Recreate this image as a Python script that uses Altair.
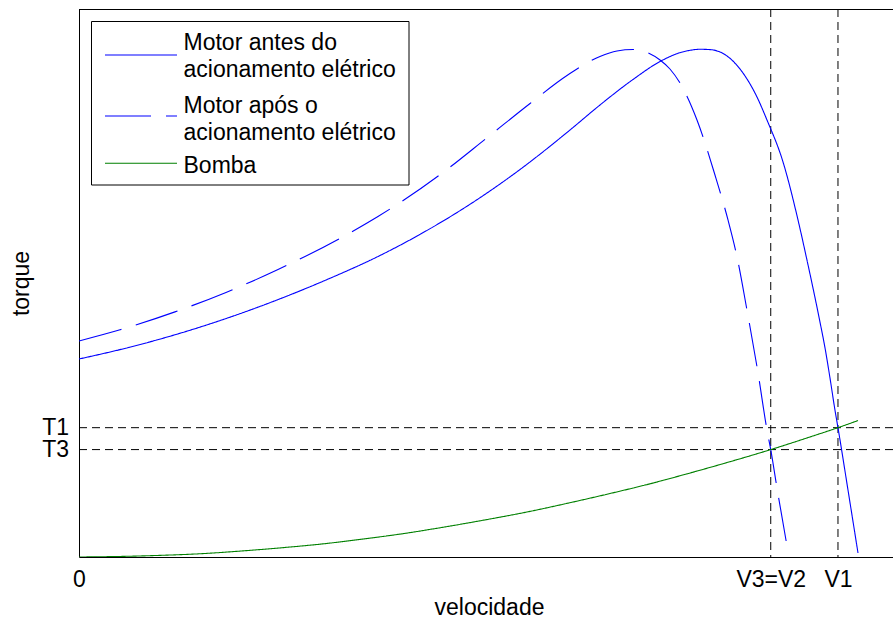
import json
import altair as alt
import pandas as pd

# Torque-speed curves (velocity and torque in normalised units)
motor_antes_v = [0.0000, 0.0614, 0.1229, 0.1843, 0.2457, 0.3071, 0.3686, 0.4189, 0.4803,
                 0.5418, 0.6032, 0.6400, 0.6806, 0.7138, 0.7383, 0.7506, 0.7629, 0.7752,
                 0.7961, 0.8157, 0.8329, 0.8452, 0.8649, 0.8833, 0.8943, 0.9017, 0.9103,
                 0.9165, 0.9226, 0.9287, 0.9324, 0.9447, 0.9570]
motor_antes_t = [0.3613, 0.3825, 0.4077, 0.4370, 0.4704, 0.5078, 0.5493, 0.5887, 0.6436,
                 0.7071, 0.7792, 0.8248, 0.8714, 0.9042, 0.9203, 0.9246, 0.9265, 0.9259,
                 0.9142, 0.8832, 0.8394, 0.7974, 0.7208, 0.6150, 0.5420, 0.4909, 0.4288,
                 0.3814, 0.3266, 0.2682, 0.2360, 0.1223, 0.0073]

motor_apos_v = [0.0000, 0.0504, 0.1179, 0.1806, 0.2445, 0.3243, 0.3673, 0.4005, 0.4435,
                0.5012, 0.5541, 0.5995, 0.6400, 0.6609, 0.6806, 0.6929, 0.7138, 0.7260,
                0.7383, 0.7592, 0.7813, 0.7973, 0.8084, 0.8206, 0.8342, 0.8452, 0.8498,
                0.8575, 0.8698]
motor_apos_t = [0.3942, 0.4146, 0.4473, 0.4828, 0.5246, 0.5845, 0.6214, 0.6527, 0.6976,
                0.7650, 0.8276, 0.8786, 0.9133, 0.9234, 0.9261, 0.9234, 0.9069, 0.8905,
                0.8650, 0.7974, 0.6971, 0.6150, 0.5474, 0.4507, 0.3358, 0.2318, 0.1960,
                0.1259, 0.0201]

bomba_v = [0.00, 0.05, 0.10, 0.15, 0.20, 0.25, 0.30, 0.35, 0.40, 0.45, 0.50, 0.55,
           0.60, 0.65, 0.70, 0.75, 0.80, 0.8498, 0.90, 0.9324, 0.957]
bomba_t = [0.000, 0.001, 0.003, 0.006, 0.011, 0.017, 0.024, 0.033, 0.043, 0.055, 0.068,
           0.082, 0.098, 0.115, 0.133, 0.153, 0.174, 0.196, 0.220, 0.236, 0.249]

# Operating points
x_tick_values = [0.0, 0.8498, 0.9324]
x_tick_labels = ["0", "V3=V2", "V1"]
y_tick_values = [0.196, 0.236]
y_tick_labels = ["T3", "T1"]
v_markers = [0.8498, 0.9324]
t_markers = [0.236, 0.196]

series_names = ["Motor antes do acionamento elétrico",
                "Motor após o acionamento elétrico",
                "Bomba"]
legend_lines = [["Motor antes do", "acionamento elétrico"],
                ["Motor após o", "acionamento elétrico"],
                ["Bomba"]]
series_colors = ["#0000ff", "#0000ff", "#008000"]
series_dashes = [[1, 0], [44, 15], [1, 0]]

FONT = "Liberation Sans"
FS = 23
W, H = 814, 548

curves = pd.concat([
    pd.DataFrame({"v": motor_antes_v, "t": motor_antes_t, "serie": series_names[0]}),
    pd.DataFrame({"v": motor_apos_v, "t": motor_apos_t, "serie": series_names[1]}),
    pd.DataFrame({"v": bomba_v, "t": bomba_t, "serie": series_names[2]}),
], ignore_index=True)

x_label_expr = "{}[indexof({}, datum.value)]".format(json.dumps(x_tick_labels), json.dumps(x_tick_values))
y_label_expr = "{}[indexof({}, datum.value)]".format(json.dumps(y_tick_labels), json.dumps(y_tick_values))

common_axis = dict(grid=False, ticks=False, tickSize=0, domainColor="black", domainWidth=1,
                   labelFont=FONT, labelFontSize=FS, labelColor="black", labelOverlap=False,
                   labelFlush=False, titleFont=FONT, titleFontSize=FS, titleColor="black",
                   titleFontWeight="normal", titleBaseline="alphabetic", titleAlign="center")

x_enc = alt.X("v:Q", scale=alt.Scale(domain=[0, 1], nice=False, zero=False),
              axis=alt.Axis(values=x_tick_values, labelExpr=x_label_expr, title="velocidade",
                            labelPadding=11, titleX=410, titleY=57, **common_axis))
y_enc = alt.Y("t:Q", scale=alt.Scale(domain=[0, 1], nice=False, zero=False),
              axis=alt.Axis(values=y_tick_values, labelExpr=y_label_expr, title="torque",
                            labelPadding=10.5, titleX=-51, titleY=H / 2, titleAngle=270,
                            **common_axis))

curve_layer = alt.Chart(curves).mark_line(strokeWidth=1.1, interpolate="monotone", clip=True).encode(
    x=x_enc,
    y=y_enc,
    color=alt.Color("serie:N", scale=alt.Scale(domain=series_names, range=series_colors), legend=None),
    strokeDash=alt.StrokeDash("serie:N", scale=alt.Scale(domain=series_names, range=series_dashes),
                              legend=None),
)

v_rules = alt.Chart(pd.DataFrame({"v": v_markers})).mark_rule(
    color="black", strokeWidth=1, strokeDash=[8, 5]).encode(x=x_enc)
t_rules = alt.Chart(pd.DataFrame({"t": t_markers})).mark_rule(
    color="black", strokeWidth=1, strokeDash=[8, 5]).encode(y=y_enc)

# top edge of the axes box
top_edge = alt.Chart().mark_rule(color="black", strokeWidth=1).encode(
    x=alt.value(0), x2=alt.value(W), y=alt.value(0.5))

# legend box
legend_layers = [
    alt.Chart().mark_rect(fill="white", stroke="black", strokeWidth=1).encode(
        x=alt.value(12.5), x2=alt.value(330), y=alt.value(12.5), y2=alt.value(176))
]
sample_y = [46, 107, 154.3]
text_y = [[41, 68.3], [104.3, 131], [164.3]]
for i in range(len(series_names)):
    legend_layers.append(
        alt.Chart().mark_rule(color=series_colors[i], strokeWidth=1.1,
                              strokeDash=[46, 15] if series_dashes[i][0] > 1 else [1, 0]).encode(
            x=alt.value(26), x2=alt.value(98), y=alt.value(sample_y[i])))
    for line, ty in zip(legend_lines[i], text_y[i]):
        legend_layers.append(
            alt.Chart().mark_text(align="left", baseline="alphabetic", font=FONT, fontSize=FS,
                                  color="black").encode(
                x=alt.value(104.5), y=alt.value(ty), text=alt.value(line)))

chart = alt.layer(v_rules, t_rules, curve_layer, top_edge, *legend_layers).properties(
    width=W, height=H,
    padding={"left": 79, "top": 9, "right": 0, "bottom": 61},
    autosize=alt.AutoSizeParams(type="none"),
    background="white",
).configure_view(stroke=None)

chart.save("out.html", embed_options={"renderer": "svg", "actions": False})
